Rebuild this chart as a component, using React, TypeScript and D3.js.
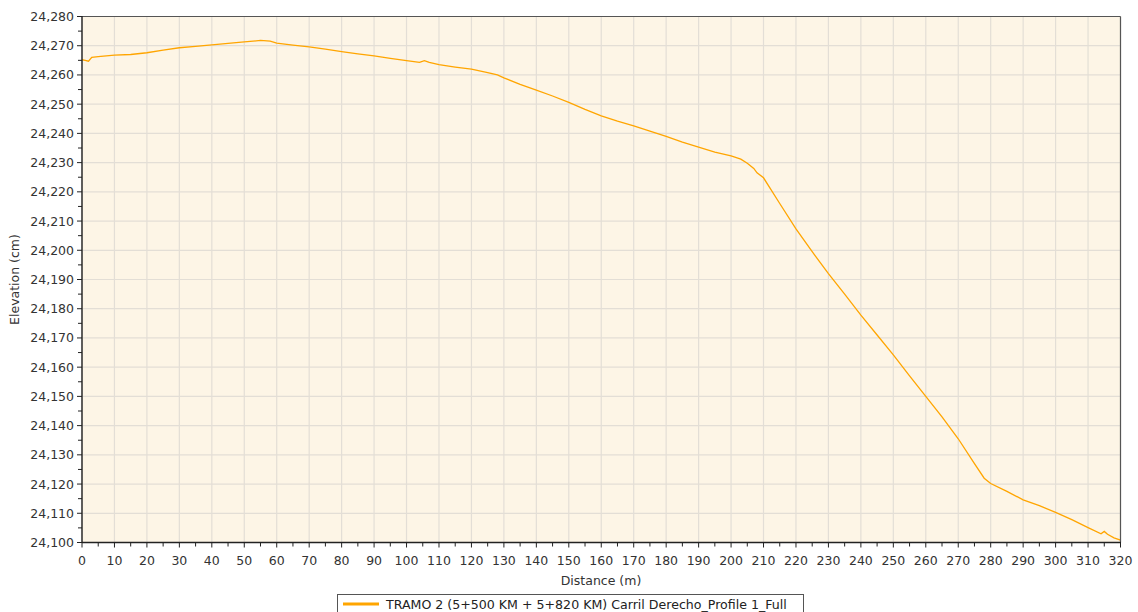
import React from "react";
import * as d3 from "d3";

const distances: number[] = [
  0, 1, 2, 3, 5, 10, 15, 20, 25, 30, 35, 40, 45, 50, 55, 58, 60, 65, 70, 75, 80, 85, 90, 95, 100,
  104, 105.5, 107, 110, 115, 120, 125, 128, 130, 135, 140, 145, 150, 155, 160, 165, 170, 175, 180,
  185, 190, 195, 200, 203, 205, 207, 208, 210, 215, 220, 225, 230, 235, 240, 245, 250, 255, 260,
  265, 270, 275, 278, 280, 285, 290, 295, 300, 305, 310, 314, 315, 316, 318, 320,
];
const elevations: number[] = [
  24265.2, 24265.0, 24264.7, 24266.0, 24266.3, 24266.8, 24267.0, 24267.6, 24268.5, 24269.3, 24269.8,
  24270.3, 24270.8, 24271.3, 24271.8, 24271.6, 24270.9, 24270.2, 24269.6, 24268.8, 24268.0, 24267.2,
  24266.5, 24265.7, 24264.9, 24264.3, 24264.9, 24264.3, 24263.5, 24262.7, 24262.0, 24260.8, 24260.0,
  24259.0, 24256.8, 24254.8, 24252.8, 24250.6, 24248.2, 24246.0, 24244.2, 24242.6, 24240.8, 24239.0,
  24237.0, 24235.3, 24233.6, 24232.3, 24231.2, 24229.8, 24228.0, 24226.5, 24224.8, 24216.0, 24207.3,
  24199.5, 24192.0, 24185.0, 24177.8, 24171.0, 24164.2, 24157.0, 24150.0, 24143.0, 24135.5, 24127.0,
  24122.0, 24120.2, 24117.5, 24114.6, 24112.6, 24110.3, 24107.8, 24105.1, 24103.0, 24103.8, 24102.8,
  24101.6, 24100.8,
];
const xTicks: number[] = d3.range(0, 321, 10);
const xMinorTicks: number[] = d3.range(5, 320, 10);
const yTicks: number[] = d3.range(24100, 24281, 10);
const yMinorTicks: number[] = d3.range(24105, 24280, 10);
const seriesName = "TRAMO 2 (5+500 KM + 5+820 KM) Carril Derecho_Profile 1_Full";
const xTitle = "Distance (m)";
const yTitle = "Elevation (cm)";

const W = 1138;
const H = 612;
const L = 82;
const R = 1120.5;
const T = 16.5;
const B = 542.5;
const FONT = "'DejaVu Sans', Verdana, sans-serif";

export default function App() {
  const x = d3.scaleLinear().domain([0, 320]).range([L, R]);
  const y = d3.scaleLinear().domain([24100, 24280]).range([B, T]);
  const pts = distances.map((d, i) => [d, elevations[i]] as [number, number]);
  const line = d3
    .line<[number, number]>()
    .x((d) => x(d[0]))
    .y((d) => y(d[1]));
  const fmt = d3.format(",");
  return (
    <svg
      width={W}
      height={H}
      style={{ position: "absolute", left: 0, top: 0, background: "#fff" }}
    >
      <rect x={L} y={T} width={R - L} height={B - T} fill="#fdf5e6" />
      {xTicks.map((t) => (
        <line key={"gx" + t} x1={x(t)} x2={x(t)} y1={T} y2={B} stroke="#e3ded6" strokeWidth={1.2} />
      ))}
      {yTicks.map((t) => (
        <line key={"gy" + t} x1={L} x2={R} y1={y(t)} y2={y(t)} stroke="#e3ded6" strokeWidth={1.2} />
      ))}
      <path d={line(pts) || ""} fill="none" stroke="#ffa500" strokeWidth={1.3} />
      <line x1={L} x2={R} y1={T} y2={T} stroke="#555" strokeWidth={1.2} />
      <line x1={R} x2={R} y1={T} y2={B} stroke="#555" strokeWidth={1.2} />
      <line x1={L} x2={L} y1={T - 0.5} y2={B + 0.5} stroke="#222" strokeWidth={1.4} />
      <line x1={L} x2={R + 0.5} y1={B} y2={B} stroke="#222" strokeWidth={1.4} />
      {xTicks.map((t) => (
        <g key={"xt" + t}>
          <line x1={x(t)} x2={x(t)} y1={B} y2={B + 5} stroke="#222" strokeWidth={1} />
          <text x={x(t)} y={565} textAnchor="middle" fontFamily={FONT} fontSize={12.5} fill="#333">
            {t}
          </text>
        </g>
      ))}
      {xMinorTicks.map((t) => (
        <line key={"xm" + t} x1={x(t)} x2={x(t)} y1={B} y2={B + 4} stroke="#222" strokeWidth={1} />
      ))}
      {yTicks.map((t) => (
        <g key={"yt" + t}>
          <line x1={L - 5} x2={L} y1={y(t)} y2={y(t)} stroke="#222" strokeWidth={1} />
          <text
            x={L - 8}
            y={y(t) + 4.5}
            textAnchor="end"
            fontFamily={FONT}
            fontSize={12.5}
            fill="#333"
          >
            {fmt(t)}
          </text>
        </g>
      ))}
      {yMinorTicks.map((t) => (
        <line key={"ym" + t} x1={L - 4} x2={L} y1={y(t)} y2={y(t)} stroke="#222" strokeWidth={1} />
      ))}
      <text x={601} y={585} textAnchor="middle" fontFamily={FONT} fontSize={12.5} fill="#333">
        {xTitle}
      </text>
      <text
        transform={`translate(19,${(T + B) / 2}) rotate(-90)`}
        textAnchor="middle"
        fontFamily={FONT}
        fontSize={12.5}
        fill="#333"
      >
        {yTitle}
      </text>
      <rect x={337.5} y={594.5} width={466} height={24} fill="#fff" stroke="#555" strokeWidth={1} />
      <line x1={343} x2={379} y1={604} y2={604} stroke="#ffa500" strokeWidth={3} />
      <text x={386} y={608.5} fontFamily={FONT} fontSize={12.6} fill="#222">
        {seriesName}
      </text>
    </svg>
  );
}
